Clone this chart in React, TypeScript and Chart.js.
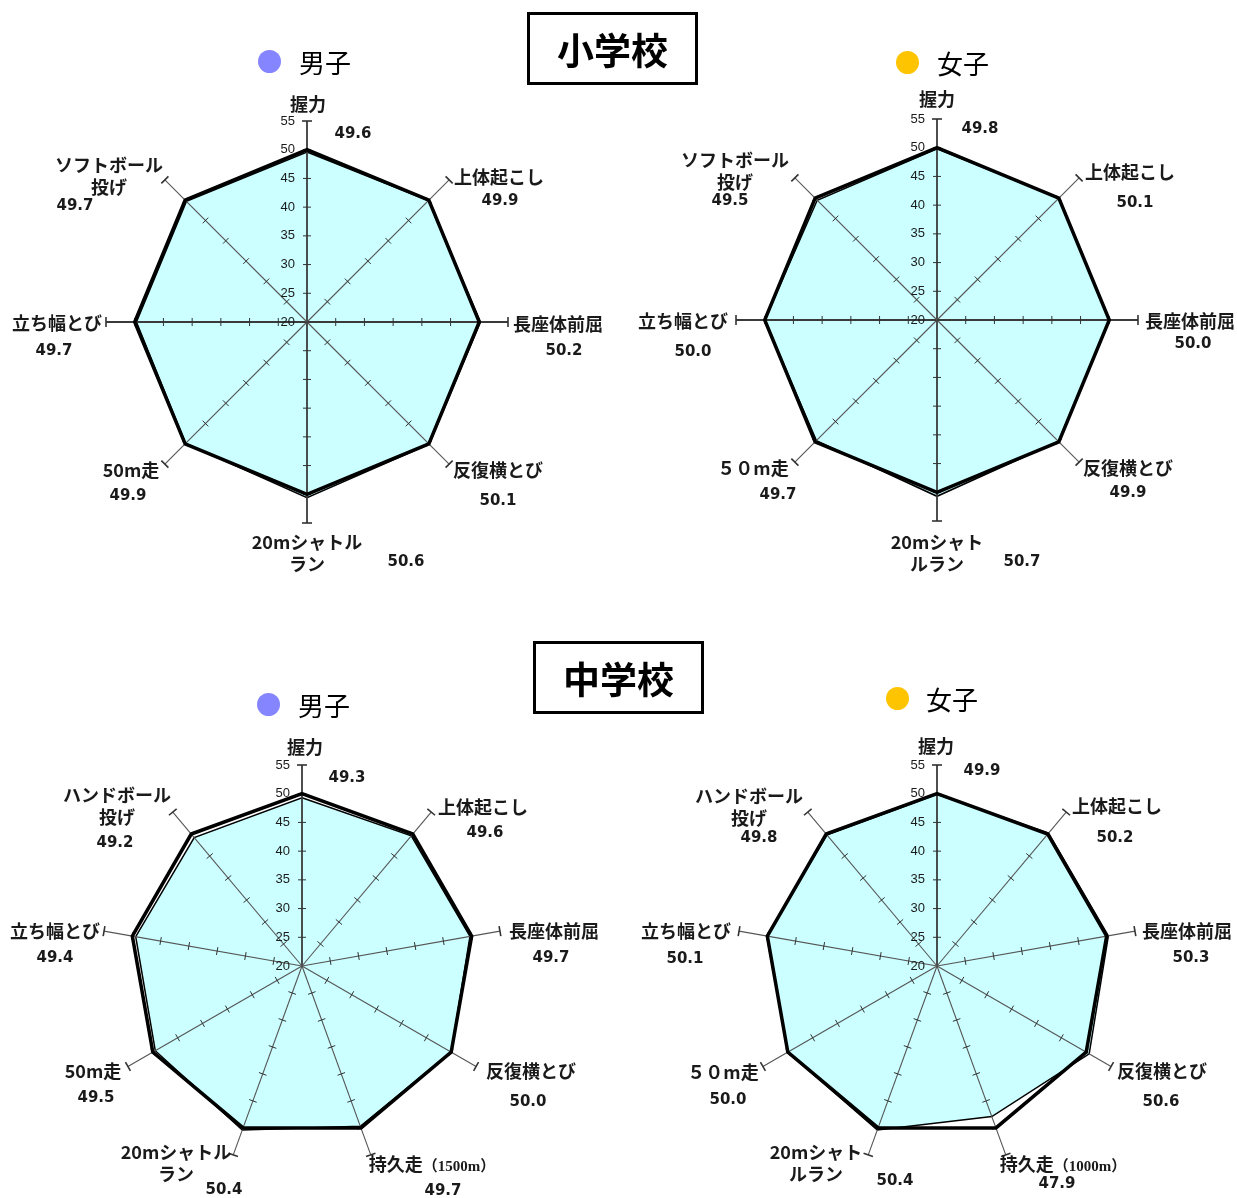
import React, { useEffect, useRef } from 'react';
import { Chart, registerables } from 'chart.js';

Chart.register(...registerables);

// ---------- data ----------
const elemCategories = ['握力', '上体起こし', '長座体前屈', '反復横とび', '20mシャトルラン', '50m走', '立ち幅とび', 'ソフトボール投げ'];
const middleCategories = ['握力', '上体起こし', '長座体前屈', '反復横とび', '持久走', '20mシャトルラン', '50m走', '立ち幅とび', 'ハンドボール投げ'];

const elemBoysLabels = ['握力', '上体起こし', '長座体前屈', '反復横とび', '20mシャトル\nラン', '50m走', '立ち幅とび', 'ソフトボール\n投げ'];
const elemGirlsLabels = ['握力', '上体起こし', '長座体前屈', '反復横とび', '20mシャト\nルラン', '５０m走', '立ち幅とび', 'ソフトボール\n投げ'];
const middleBoysLabels = ['握力', '上体起こし', '長座体前屈', '反復横とび', '持久走（1500m）', '20mシャトル\nラン', '50m走', '立ち幅とび', 'ハンドボール\n投げ'];
const middleGirlsLabels = ['握力', '上体起こし', '長座体前屈', '反復横とび', '持久走（1000m）', '20mシャト\nルラン', '５０m走', '立ち幅とび', 'ハンドボール\n投げ'];

const elemBoysValues = [49.6, 49.9, 50.2, 50.1, 50.6, 49.9, 49.7, 49.7];
const elemGirlsValues = [49.8, 50.1, 50.0, 49.9, 50.7, 49.7, 50.0, 49.5];
const middleBoysValues = [49.3, 49.6, 49.7, 50.0, 49.7, 50.4, 49.5, 49.4, 49.2];
const middleGirlsValues = [49.9, 50.2, 50.3, 50.6, 47.9, 50.4, 50.0, 50.1, 49.8];

const elemNational = [50, 50, 50, 50, 50, 50, 50, 50];
const middleNational = [50, 50, 50, 50, 50, 50, 50, 50, 50];

const tickValues = [20, 25, 30, 35, 40, 45, 50, 55];
const scaleMin = 20;
const scaleMax = 55;

// ---------- layout ----------
const PAGE_W = 1237;
const PAGE_H = 1198;
const CANVAS = 620;
const PAD = 109; // radius = (620 - 218) / 2 = 201

type Panel = {
  cx: number;
  cy: number;
  categories: string[];
  labels: string[];
  values: number[];
  national: number[];
  labelPos: number[][];
  valuePos: number[][];
};

const panels: Panel[] = [
  {
    cx: 307, cy: 322,
    categories: elemCategories, labels: elemBoysLabels, values: elemBoysValues, national: elemNational,
    labelPos: [[1, -219], [192, -146], [251, 1], [191, 147], [0, 230], [-176, 147], [-250, 0], [-198, -147]],
    valuePos: [[46, -189], [193, -122], [257, 28], [191, 178], [99, 239], [-179, 173], [-253, 28], [-232, -117]],
  },
  {
    cx: 937, cy: 320,
    categories: elemCategories, labels: elemGirlsLabels, values: elemGirlsValues, national: elemNational,
    labelPos: [[0, -222], [193, -149], [253, 0], [191, 147], [0, 232], [-184, 147], [-254, 0], [-202, -150]],
    valuePos: [[43, -192], [198, -118], [256, 23], [191, 172], [85, 241], [-159, 174], [-244, 31], [-207, -120]],
  },
  {
    cx: 302, cy: 966,
    categories: middleCategories, labels: middleBoysLabels, values: middleBoysValues, national: middleNational,
    labelPos: [[3, -220], [181, -160], [252, -36], [229, 104], [130, 197], [-126, 196], [-209, 104], [-247, -36], [-185, -161]],
    valuePos: [[45, -189], [183, -134], [249, -9], [226, 135], [141, 224], [-78, 223], [-206, 131], [-247, -9], [-187, -124]],
  },
  {
    cx: 937, cy: 966,
    categories: middleCategories, labels: middleGirlsLabels, values: middleGirlsValues, national: middleNational,
    labelPos: [[-1, -221], [180, -161], [250, -36], [225, 104], [126, 197], [-121, 196], [-214, 105], [-251, -36], [-188, -160]],
    valuePos: [[45, -196], [178, -129], [254, -9], [224, 135], [120, 217], [-42, 214], [-209, 133], [-252, -8], [-178, -129]],
  },
];

// ---------- plugin: axes with tick marks and tick labels ----------
const axesPlugin = {
  id: 'radarAxes',
  afterDatasetDraw(chart: any, args: any) {
    if (args.index !== 1) return;
    const scale = chart.scales.r;
    const ctx = chart.ctx;
    const n = chart.data.labels.length;
    ctx.save();
    for (let i = 0; i < n; i++) {
      const end = scale.getPointPositionForValue(i, scaleMax);
      const theta = end.angle;
      const px = -Math.sin(theta);
      const py = Math.cos(theta);
      const deg = Math.round((scale.getIndexAngle(i) * 180) / Math.PI);
      const major = deg % 90 === 0;
      ctx.strokeStyle = major ? '#3a3a3a' : '#555555';
      ctx.lineWidth = major ? 1.8 : 1.1;
      ctx.beginPath();
      ctx.moveTo(scale.xCenter, scale.yCenter);
      ctx.lineTo(end.x, end.y);
      ctx.stroke();
      ctx.strokeStyle = '#333333';
      for (const v of tickValues) {
        if (v === scaleMin) continue;
        const p = scale.getPointPositionForValue(i, v);
        const half = v === scaleMax ? 5 : 4;
        ctx.lineWidth = v === scaleMax ? 1.6 : 1;
        ctx.beginPath();
        ctx.moveTo(p.x - px * half, p.y - py * half);
        ctx.lineTo(p.x + px * half, p.y + py * half);
        ctx.stroke();
      }
    }
    ctx.fillStyle = '#1a1a1a';
    ctx.font = '13px "Liberation Sans", Arial, sans-serif';
    ctx.textAlign = 'right';
    ctx.textBaseline = 'middle';
    for (const v of tickValues) {
      const p = scale.getPointPositionForValue(0, v);
      ctx.fillText(String(v), p.x - 12, p.y);
    }
    ctx.restore();
  },
};

function RadarPanel({ panel }: { panel: Panel }) {
  const ref = useRef<HTMLCanvasElement>(null);
  useEffect(() => {
    if (!ref.current) return;
    const chart = new Chart(ref.current, {
      type: 'radar',
      data: {
        labels: panel.categories,
        datasets: [
          {
            label: '全国平均',
            data: panel.national,
            borderColor: '#000000',
            borderWidth: 3.5,
            backgroundColor: 'rgba(0,0,0,0)',
            fill: false,
            pointRadius: 0,
          },
          {
            label: '本県',
            data: panel.values,
            borderColor: '#000000',
            borderWidth: 1.5,
            backgroundColor: '#CCFFFF',
            fill: true,
            pointRadius: 0,
          },
        ],
      },
      options: {
        responsive: false,
        animation: false,
        events: [],
        layout: { padding: PAD },
        elements: { line: { tension: 0, borderJoinStyle: 'miter' } },
        plugins: { legend: { display: false }, tooltip: { enabled: false }, title: { display: false } },
        scales: {
          r: {
            min: scaleMin,
            max: scaleMax,
            ticks: { display: false, stepSize: 5 },
            grid: { display: false },
            angleLines: { display: false },
            pointLabels: { display: false },
          },
        },
      } as any,
      plugins: [axesPlugin],
    });
    return () => chart.destroy();
  }, [panel]);

  const labelFont = '700 18px "Noto Sans CJK JP", sans-serif';
  const valueFont = '700 15px "DejaVu Sans", sans-serif';

  return (
    <>
      <canvas
        ref={ref}
        width={CANVAS}
        height={CANVAS}
        style={{ position: 'absolute', left: panel.cx - CANVAS / 2, top: panel.cy - CANVAS / 2, width: CANVAS, height: CANVAS }}
      />
      {panel.labels.map((t, i) => {
        const k = t.indexOf('（');
        return (
          <div
            key={'l' + i}
            style={{
              position: 'absolute',
              left: panel.cx + panel.labelPos[i][0],
              top: panel.cy + panel.labelPos[i][1],
              transform: 'translate(-50%, -50%)',
              whiteSpace: 'pre',
              textAlign: 'center',
              font: labelFont,
              lineHeight: '22px',
              color: '#1a1a1a',
            }}
          >
            {k >= 0 ? (
              <>
                {t.slice(0, k)}
                <span style={{ font: '700 15px "Liberation Serif", "Noto Sans CJK JP", serif' }}>{t.slice(k)}</span>
              </>
            ) : (
              t
            )}
          </div>
        );
      })}
      {panel.values.map((v, i) => (
        <div
          key={'v' + i}
          style={{
            position: 'absolute',
            left: panel.cx + panel.valuePos[i][0],
            top: panel.cy + panel.valuePos[i][1],
            transform: 'translate(-50%, -50%)',
            whiteSpace: 'pre',
            font: valueFont,
            lineHeight: '18px',
            color: '#1a1a1a',
          }}
        >
          {v.toFixed(1)}
        </div>
      ))}
    </>
  );
}

function Heading({ text, left, top }: { text: string; left: number; top: number }) {
  return (
    <div
      style={{
        position: 'absolute',
        left,
        top,
        width: 171,
        height: 73,
        border: '3px solid #000',
        boxSizing: 'border-box',
        display: 'flex',
        alignItems: 'center',
        justifyContent: 'center',
        font: '700 37px "Noto Sans CJK JP", sans-serif',
        color: '#000',
      }}
    >
      {text}
    </div>
  );
}

function LegendItem({ text, color, dotX, y, textX }: { text: string; color: string; dotX: number; y: number; textX: number }) {
  return (
    <>
      <div
        style={{
          position: 'absolute',
          left: dotX - 11.5,
          top: y - 11.5,
          width: 23,
          height: 23,
          borderRadius: '50%',
          background: color,
        }}
      />
      <div
        style={{
          position: 'absolute',
          left: textX,
          top: y - 18,
          height: 36,
          lineHeight: '36px',
          font: '400 26px "Noto Sans CJK JP", sans-serif',
          color: '#000',
          whiteSpace: 'nowrap',
        }}
      >
        {text}
      </div>
    </>
  );
}

export default function App() {
  return (
    <div
      style={{
        position: 'absolute',
        left: 0,
        top: 0,
        width: PAGE_W,
        height: PAGE_H,
        overflow: 'hidden',
        background: '#ffffff',
      }}
    >
      {panels.map((p, i) => (
        <RadarPanel key={i} panel={p} />
      ))}
      <Heading text="小学校" left={527} top={12} />
      <Heading text="中学校" left={533} top={641} />
      <LegendItem text="男子" color="#8585FF" dotX={269} y={61} textX={299} />
      <LegendItem text="女子" color="#FFC400" dotX={907} y={62} textX={937} />
      <LegendItem text="男子" color="#8585FF" dotX={268} y={704} textX={298} />
      <LegendItem text="女子" color="#FFC400" dotX={897} y={698} textX={926} />
    </div>
  );
}
